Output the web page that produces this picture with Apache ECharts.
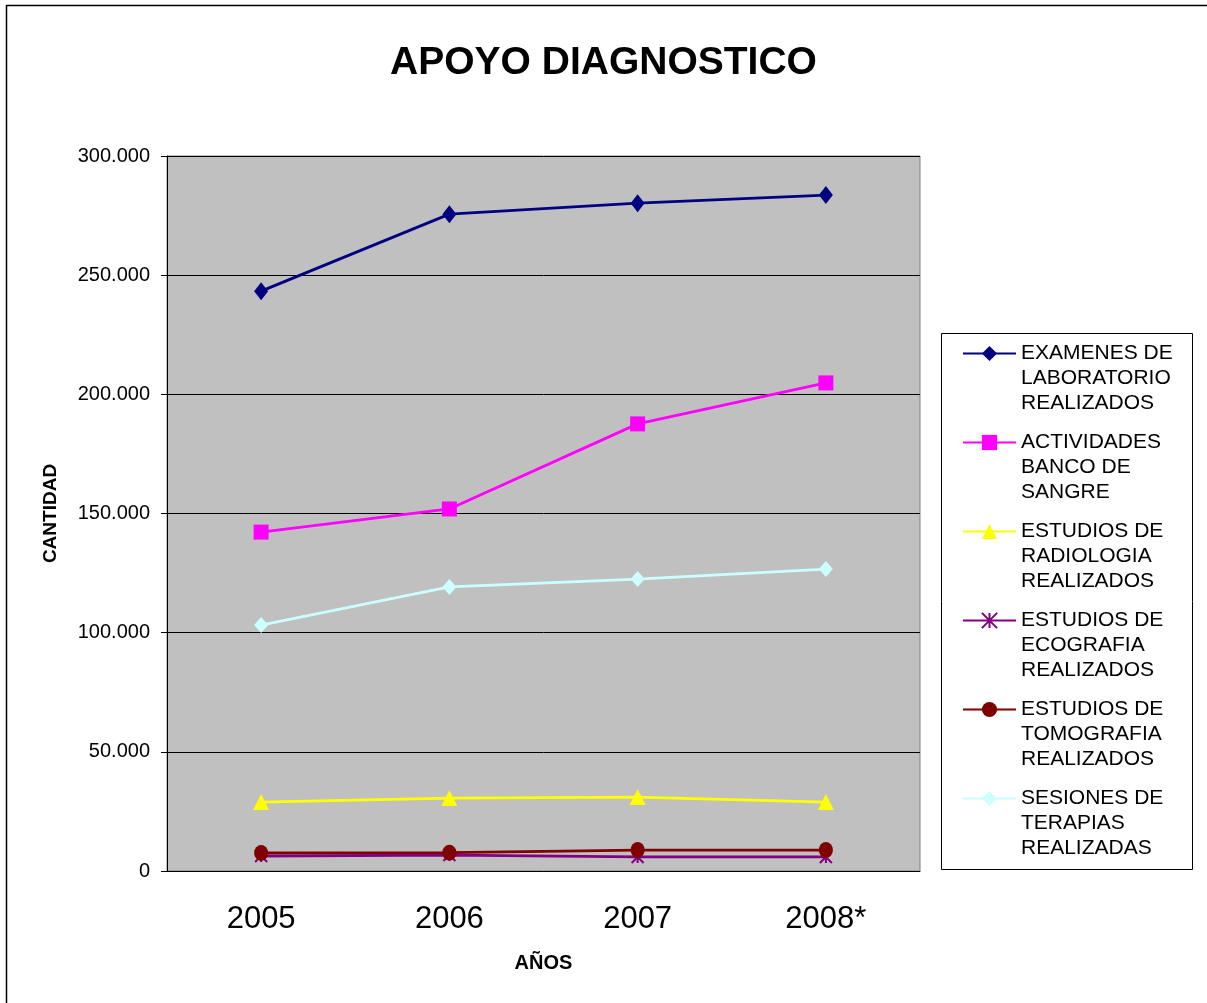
<!DOCTYPE html>
<html>
<head>
<meta charset="utf-8">
<title>APOYO DIAGNOSTICO</title>
<script src="https://cdn.jsdelivr.net/npm/echarts@6/dist/echarts.min.js"></script>
<style>
  html, body { margin: 0; padding: 0; background: #fff; }
  #chart { width: 1207px; height: 1003px; }
</style>
</head>
<body>
<div id="chart"></div>
<script>
// años
const years = ["2005", "2006", "2007", "2008*"];
// nombres de las series
const seriesNames = [
  "EXAMENES DE LABORATORIO REALIZADOS",
  "ACTIVIDADES BANCO DE SANGRE",
  "ESTUDIOS DE RADIOLOGIA REALIZADOS",
  "ESTUDIOS DE ECOGRAFIA REALIZADOS",
  "ESTUDIOS DE TOMOGRAFIA REALIZADOS",
  "SESIONES DE TERAPIAS REALIZADAS",
];
// valores
const examenes = [243300, 275600, 280200, 283600];
const bancoSangre = [142200, 151900, 187600, 204800];
const radiologia = [28900, 30600, 31000, 28900];
const ecografia = [6300, 6700, 5900, 5900];
const tomografia = [7600, 7700, 8800, 8800];
const terapias = [103200, 119200, 122500, 126700];
// ticks del eje Y
const yTicks = [0, 50000, 100000, 150000, 200000, 250000, 300000];

const FONT = "Arial, 'Liberation Sans', sans-serif";

// nombre de la leyenda en tres lineas
const legendLines = {
  "EXAMENES DE LABORATORIO REALIZADOS": "EXAMENES DE\nLABORATORIO\nREALIZADOS",
  "ACTIVIDADES BANCO DE SANGRE": "ACTIVIDADES\nBANCO DE\nSANGRE",
  "ESTUDIOS DE RADIOLOGIA REALIZADOS": "ESTUDIOS DE\nRADIOLOGIA\nREALIZADOS",
  "ESTUDIOS DE ECOGRAFIA REALIZADOS": "ESTUDIOS DE\nECOGRAFIA\nREALIZADOS",
  "ESTUDIOS DE TOMOGRAFIA REALIZADOS": "ESTUDIOS DE\nTOMOGRAFIA\nREALIZADOS",
  "SESIONES DE TERAPIAS REALIZADAS": "SESIONES DE\nTERAPIAS\nREALIZADAS",
};

const seriesData = [examenes, bancoSangre, radiologia, ecografia, tomografia, terapias];
const colors = ["#000080", "#FF00FF", "#FFFF00", "#800080", "#800000", "#CCFFFF"];
const symbols = [
  "diamond",
  "rect",
  "triangle",
  "path://M0,0L10,10M10,0L0,10M5,0L5,10", // asterisco
  "circle",
  "diamond",
];
const symbolSizes = [[14, 18], 15, 16, 12, [14, 16], [14, 16]];

// punto de miles: 300.000
const fmt = (v) => String(v).replace(/\B(?=(\d{3})+(?!\d))/g, ".");

const getSeries = () => {
  const series = [];
  seriesNames.forEach((name, i) => {
    const isStar = i === 3;
    series.push({
      name: name,
      type: "line",
      data: seriesData[i],
      symbol: symbols[i],
      symbolSize: symbolSizes[i],
      lineStyle: { color: colors[i], width: 2.8 },
      itemStyle: isStar
        ? { color: "rgba(0,0,0,0)", borderColor: colors[i], borderWidth: 2 }
        : { color: colors[i], borderWidth: 0 },
      emphasis: { disabled: true },
      animation: false,
    });
  });
  return series;
};

const mChart = echarts.init(document.getElementById("chart"));

const renderChart = () => {
  const option = {
    animation: false,
    title: {
      text: "APOYO DIAGNOSTICO",
      left: "center",
      top: 39,
      textStyle: { fontFamily: FONT, fontSize: 39, fontWeight: "bold", color: "#000" },
    },
    grid: {
      left: 167,
      top: 156,
      width: 753,
      height: 715,
      show: true,
      backgroundColor: "#C0C0C0",
      borderColor: "#808080",
      borderWidth: 1,
    },
    legend: {
      orient: "vertical",
      left: 962,
      top: 291,
      padding: 0,
      itemWidth: 53,
      itemHeight: 19,
      itemGap: -36,
      data: seriesNames,
      // dos lineas vacias arriba: el icono queda a la altura de la primera linea
      formatter: (name) => "\n\n" + legendLines[name],
      textStyle: {
        fontFamily: FONT,
        fontSize: 21,
        color: "#000",
        lineHeight: 25,
      },
    },
    xAxis: {
      type: "category",
      data: years,
      name: "AÑOS",
      nameLocation: "middle",
      nameGap: 82,
      nameTextStyle: { fontFamily: FONT, fontSize: 20, fontWeight: "bold", color: "#000" },
      axisLine: { lineStyle: { color: "#000", width: 1 } },
      axisTick: { length: 10, lineStyle: { color: "#000" } },
      axisLabel: { fontFamily: FONT, fontSize: 31, color: "#000", margin: 33 },
    },
    yAxis: {
      type: "value",
      min: yTicks[0],
      max: yTicks[yTicks.length - 1],
      interval: yTicks[1] - yTicks[0],
      name: "CANTIDAD",
      nameLocation: "middle",
      nameGap: 107,
      nameTextStyle: { fontFamily: FONT, fontSize: 19, fontWeight: "bold", color: "#000" },
      axisLine: { show: true, lineStyle: { color: "#000", width: 1 } },
      axisTick: { show: true, length: 6, lineStyle: { color: "#000" } },
      axisLabel: { fontFamily: FONT, fontSize: 20, color: "#000", margin: 17, formatter: fmt },
      splitLine: { lineStyle: { color: "#000", width: 1 } },
    },
    graphic: [
      // marco exterior
      {
        type: "rect",
        shape: { x: 6.5, y: 5.5, width: 1230, height: 1030 },
        style: { fill: "none", stroke: "#000", lineWidth: 1.5 },
        silent: true,
      },
      // caja de la leyenda
      {
        type: "rect",
        shape: { x: 941.5, y: 333.5, width: 251, height: 536 },
        style: { fill: "none", stroke: "#000", lineWidth: 1 },
        silent: true,
      },
    ],
    series: getSeries(),
  };
  mChart.setOption(option);
};
renderChart();
</script>
</body>
</html>
